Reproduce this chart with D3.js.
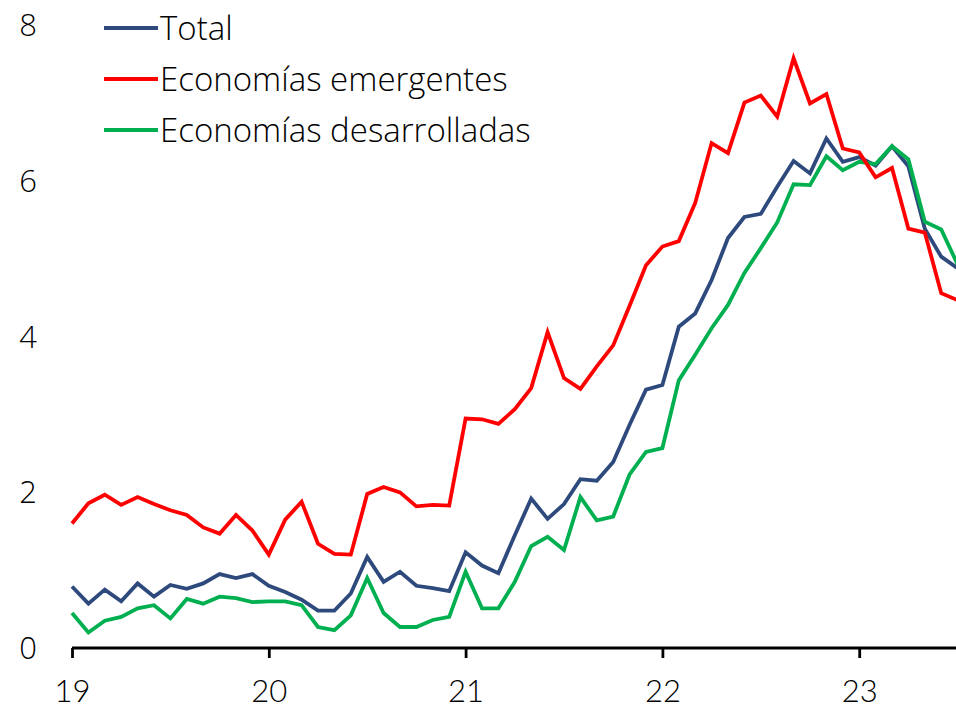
<!DOCTYPE html>
<html>
<head>
<meta charset="utf-8">
<script src="https://cdn.jsdelivr.net/npm/d3@7"></script>
<style>
  html, body { margin: 0; padding: 0; background: #ffffff; overflow: hidden; }
  svg { display: block; }
  text { font-family: "Open Sans", "Noto Sans", sans-serif; font-weight: 300; fill: #000; }
  .xlab text { font-family: "Lato", "Open Sans", sans-serif; font-weight: 300; }
</style>
</head>
<body>
<svg id="chart" width="956" height="710"></svg>
<script>
// ---- data (monthly, Jan 2019 .. Jul 2023) ----
const yearLabels = ["19", "20", "21", "22", "23"];
const yTicks = [0, 2, 4, 6, 8];
const seriesNames = ["Total", "Economías emergentes", "Economías desarrolladas"];

const total = [0.79,0.57,0.75,0.60,0.83,0.66,0.81,0.76,0.83,0.95,0.90,0.95,0.80,
  0.72,0.62,0.48,0.48,0.70,1.17,0.85,0.98,0.80,0.77,0.73,
  1.23,1.06,0.96,1.45,1.92,1.66,1.85,2.17,2.15,2.39,2.87,3.32,
  3.38,4.13,4.30,4.73,5.27,5.54,5.58,5.93,6.26,6.10,6.55,6.25,
  6.31,6.20,6.45,6.19,5.39,5.03,4.88];

const emergentes = [1.60,1.86,1.97,1.84,1.94,1.85,1.77,1.71,1.55,1.47,1.71,1.51,1.20,
  1.65,1.88,1.34,1.21,1.20,1.98,2.07,2.00,1.82,1.84,1.83,
  2.95,2.94,2.88,3.07,3.34,4.06,3.47,3.33,3.62,3.89,4.40,4.92,
  5.16,5.23,5.72,6.49,6.36,7.01,7.10,6.83,7.58,7.00,7.12,6.42,
  6.37,6.05,6.17,5.39,5.34,4.56,4.47];

const desarrolladas = [0.45,0.20,0.35,0.40,0.51,0.55,0.38,0.63,0.57,0.66,0.64,0.59,0.60,
  0.60,0.55,0.27,0.23,0.42,0.90,0.45,0.27,0.27,0.36,0.40,
  0.98,0.51,0.51,0.85,1.31,1.43,1.26,1.94,1.64,1.69,2.23,2.52,
  2.57,3.44,3.77,4.11,4.41,4.82,5.14,5.47,5.96,5.95,6.32,6.14,
  6.25,6.22,6.45,6.28,5.48,5.38,4.93];

const colors = ["#2E4A7D", "#FF0000", "#00B050"];

// ---- layout ----
const svg = d3.select("#chart");
const W = 956, H = 710;
const x0 = 72, monthW = 16.4;
const x = d3.scaleLinear().domain([0, 54]).range([x0, x0 + 54 * monthW]);
const y = d3.scaleLinear().domain([0, 8]).range([648, 25.6]);

svg.append("rect").attr("width", W).attr("height", H).attr("fill", "#fff");

// y labels
svg.append("g").selectAll("text").data(yTicks).join("text")
  .attr("x", 37).attr("y", d => y(d))
  .attr("dy", "0.35em")
  .attr("text-anchor", "end")
  .attr("font-size", 31)
  .text(d => d);

// lines
const line = d3.line().x((d, i) => x(i)).y(d => y(d));
const data = [total, desarrolladas, emergentes];
const cols = [colors[0], colors[2], colors[1]];
svg.append("g").selectAll("path").data(data).join("path")
  .attr("d", d => line(d))
  .attr("fill", "none")
  .attr("stroke", (d, i) => cols[i])
  .attr("stroke-width", 3.8)
  .attr("stroke-linejoin", "miter");

// x axis
const xAxis = d3.axisBottom(x)
  .tickValues([0, 12, 24, 36, 48])
  .tickFormat((d, i) => yearLabels[i])
  .tickSize(10)
  .tickSizeOuter(0);
const gx = svg.append("g").attr("class", "xlab")
  .attr("transform", "translate(0,648)").call(xAxis);
gx.select(".domain").attr("stroke", "#000").attr("stroke-width", 2.8)
  .attr("d", `M${x0},0H${W}`);
gx.selectAll(".tick line").attr("stroke", "#000").attr("stroke-width", 2.8);
gx.selectAll(".tick text")
  .attr("font-size", 31)
  .attr("fill", "#000")
  .attr("y", 54)
  .attr("dy", null);

// legend
const legY = [28, 79, 130];
const leg = svg.append("g");
seriesNames.forEach((name, i) => {
  leg.append("line")
    .attr("x1", 104).attr("x2", 158)
    .attr("y1", legY[i]).attr("y2", legY[i])
    .attr("stroke", colors[i]).attr("stroke-width", 3.8);
  leg.append("text")
    .attr("x", 160).attr("y", legY[i])
    .attr("dy", "0.36em")
    .attr("font-size", 33)
    .text(name);
});
</script>
</body>
</html>
